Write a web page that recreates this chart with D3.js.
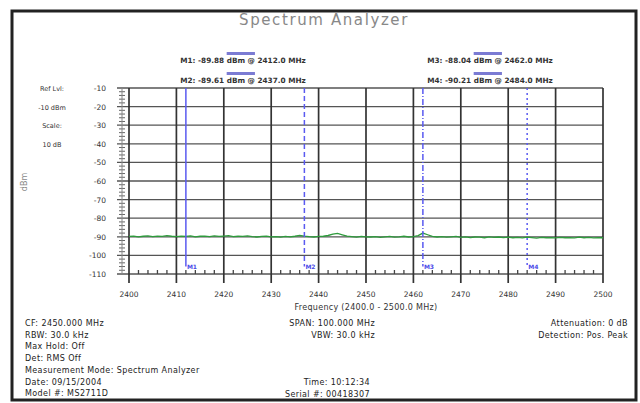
<!DOCTYPE html>
<html>
<head>
<meta charset="utf-8">
<script src="https://cdn.jsdelivr.net/npm/d3@7"></script>
<style>
  body { margin: 0; background: #fff; }
  svg text { font-family: "DejaVu Sans", Verdana, sans-serif; }
</style>
</head>
<body>
<script>
// trace: 1 MHz steps, 2400..2500
var startFreq = 2400
var traceDbm = [
  -89.8,-89.6,-90.0,-89.7,-89.5,-89.9,-89.6,-89.8,-89.4,-89.7,-89.9,
  -89.6,-89.8,-89.5,-90.0,-89.7,-89.6,-89.9,-89.5,-89.8,-89.6,
  -89.4,-89.9,-89.7,-89.8,-89.5,-89.9,-90.1,-89.8,-89.6,-90.0,
  -89.9,-90.2,-89.8,-90.0,-89.7,-89.2,-89.6,-89.9,-90.1,-89.8,
  -89.7,-89.3,-88.6,-88.2,-88.9,-89.6,-89.9,-90.2,-89.8,-90.0,
  -90.1,-89.9,-90.3,-90.0,-89.8,-90.2,-90.0,-89.7,-90.1,-89.9,
  -89.4,-88.0,-88.9,-89.8,-90.1,-89.9,-90.2,-90.0,-89.8,-90.3,
  -90.0,-90.4,-90.1,-90.2,-90.5,-90.0,-90.3,-90.1,-90.4,-90.2,
  -90.5,-90.3,-90.6,-90.2,-90.4,-90.7,-90.3,-90.5,-90.4,-90.6,
  -90.3,-90.5,-90.4,-90.6,-90.2,-90.5,-90.3,-90.6,-90.4,-90.5
]

// markers
var markerNames = ["M1", "M2", "M3", "M4"]
var markerFreqs = [2412, 2437, 2462, 2484]
var markerDbm = [-89.88, -89.61, -88.04, -90.21]
var markerDash = ["", "5,3", "6,2,1,2", "2,3"]

var xTicks = d3.range(2400, 2501, 10)
var yTicks = d3.range(-10, -111, -10)

var leftInfo = ["Ref Lvl:", "-10 dBm", "Scale:", "10 dB"]
var footLeft = ["CF: 2450.000 MHz", "RBW: 30.0 kHz", "Max Hold: Off", "Det: RMS Off",
  "Measurement Mode: Spectrum Analyzer", "Date: 09/15/2004", "Model #: MS2711D"]
var footMid = ["SPAN: 100.000 MHz", "VBW: 30.0 kHz"]
var footMid2 = ["Time: 10:12:34", "Serial #: 00418307"]
var footRight = ["Attenuation: 0 dB", "Detection: Pos. Peak"]

var width = 640, height = 403
var svg = d3.select("body").append("svg")
  .attr("width", width).attr("height", height)

// outer frame
svg.append("rect").attr("x", 12).attr("y", 11).attr("width", 624).attr("height", 389)
  .attr("fill", "none").attr("stroke", "#222").attr("stroke-width", 3)

svg.append("text").attr("x", 324).attr("y", 25).attr("text-anchor", "middle")
  .attr("font-size", 15).attr("letter-spacing", 1.6).attr("fill", "#888")
  .text("Spectrum Analyzer")

var x = d3.scaleLinear().domain([2400, 2500]).range([129, 603])
var y = d3.scaleLinear().domain([-10, -110]).range([88, 274])

// grid
svg.append("g").selectAll("line").data(yTicks).join("line")
  .attr("x1", 117).attr("x2", x(2500)).attr("y1", d => y(d)).attr("y2", d => y(d))
  .attr("stroke", "#555").attr("stroke-width", 1.3)
svg.append("g").selectAll("line").data(xTicks).join("line")
  .attr("x1", d => x(d)).attr("x2", d => x(d)).attr("y1", y(-10)).attr("y2", y(-110) + 9)
  .attr("stroke", "#333").attr("stroke-width", 1.7)

// minor ticks
svg.append("g").selectAll("line").data(d3.range(2402, 2500, 2).filter(d => d % 10)).join("line")
  .attr("x1", d => x(d)).attr("x2", d => x(d)).attr("y1", y(-110)).attr("y2", y(-110) - 4)
  .attr("stroke", "#444").attr("stroke-width", 1.3)
svg.append("g").selectAll("line").data(d3.range(-12, -110, -2).filter(d => d % 10)).join("line")
  .attr("x1", 119).attr("x2", 125).attr("y1", d => y(d)).attr("y2", d => y(d))
  .attr("stroke", "#666").attr("stroke-width", 1)
svg.append("line").attr("x1", 122).attr("x2", 122).attr("y1", y(-10)).attr("y2", y(-110))
  .attr("stroke", "#888").attr("stroke-width", 1)

// tick labels
svg.append("g").selectAll("text").data(yTicks).join("text")
  .attr("x", 106).attr("y", d => y(d) + 3).attr("text-anchor", "end")
  .attr("font-size", 7.5).attr("fill", "#333").text(d => d)
svg.append("g").selectAll("text").data(xTicks).join("text")
  .attr("x", d => x(d)).attr("y", 297).attr("text-anchor", "middle")
  .attr("font-size", 7.5).attr("fill", "#333").text(d => d)

svg.append("text").attr("x", 366).attr("y", 310).attr("text-anchor", "middle")
  .attr("font-size", 8).attr("letter-spacing", 0.3).attr("fill", "#333")
  .text("Frequency (2400.0 - 2500.0 MHz)")
svg.append("text").attr("transform", "translate(27,182) rotate(-90)")
  .attr("text-anchor", "middle").attr("font-size", 8).attr("fill", "#888").text("dBm")

svg.append("g").selectAll("text").data(leftInfo).join("text")
  .attr("x", 52).attr("y", (d, i) => y(yTicks[i]) + 3).attr("text-anchor", "middle")
  .attr("font-size", 6.5).attr("fill", "#333").text(d => d)

// trace
var line = d3.line().x((d, i) => x(startFreq + i)).y(d => y(d))
svg.append("path").datum(traceDbm).attr("d", line)
  .attr("fill", "none").attr("stroke", "#2e9b3c").attr("stroke-width", 1.3)

// markers
var mk = svg.append("g").selectAll("g").data(markerFreqs).join("g")
mk.append("line").attr("x1", d => x(d)).attr("x2", d => x(d))
  .attr("y1", y(-10)).attr("y2", y(-106))
  .attr("stroke", "#5a5af0").attr("stroke-width", 1.5)
  .attr("stroke-dasharray", (d, i) => markerDash[i])
mk.append("text").attr("x", d => x(d) + 1).attr("y", y(-106) + 2)
  .attr("font-size", 6).attr("fill", "#4a4ae8").attr("font-weight", "bold")
  .text((d, i) => markerNames[i])

// marker readouts
var readPos = [[243, 63], [243, 83], [490, 63], [490, 83]]
markerFreqs.forEach(function(f, i) {
  var t = svg.append("text").attr("x", readPos[i][0]).attr("y", readPos[i][1])
    .attr("text-anchor", "middle").attr("font-size", 7.3).attr("font-weight", "bold")
    .attr("fill", "#333")
    .text(markerNames[i] + ": " + markerDbm[i].toFixed(2) + " dBm @ " + f.toFixed(1) + " MHz")
  var len = t.node().getComputedTextLength()
  var x0 = readPos[i][0] - len / 2
  var s = t.text().indexOf("dBm")
  var a = t.node().getSubStringLength(0, s)
  var b = t.node().getSubStringLength(s, 5)
  svg.append("rect").attr("x", x0 + a).attr("y", readPos[i][1] - 11)
    .attr("width", b).attr("height", 3).attr("fill", "#5a5ac8").attr("opacity", 0.8)
})

// footer
function col(lines, xx, y0, anchor) {
  svg.append("g").selectAll("text").data(lines).join("text")
    .attr("x", xx).attr("y", (d, i) => y0 + i * 11.7).attr("text-anchor", anchor)
    .attr("font-size", 8).attr("letter-spacing", 0.4).attr("fill", "#222").text(d => d)
}
col(footLeft, 25, 326, "start")
col(footMid, 375, 326, "end")
col(footMid2, 370, 385, "end")
col(footRight, 628, 326, "end")
</script>
</body>
</html>
